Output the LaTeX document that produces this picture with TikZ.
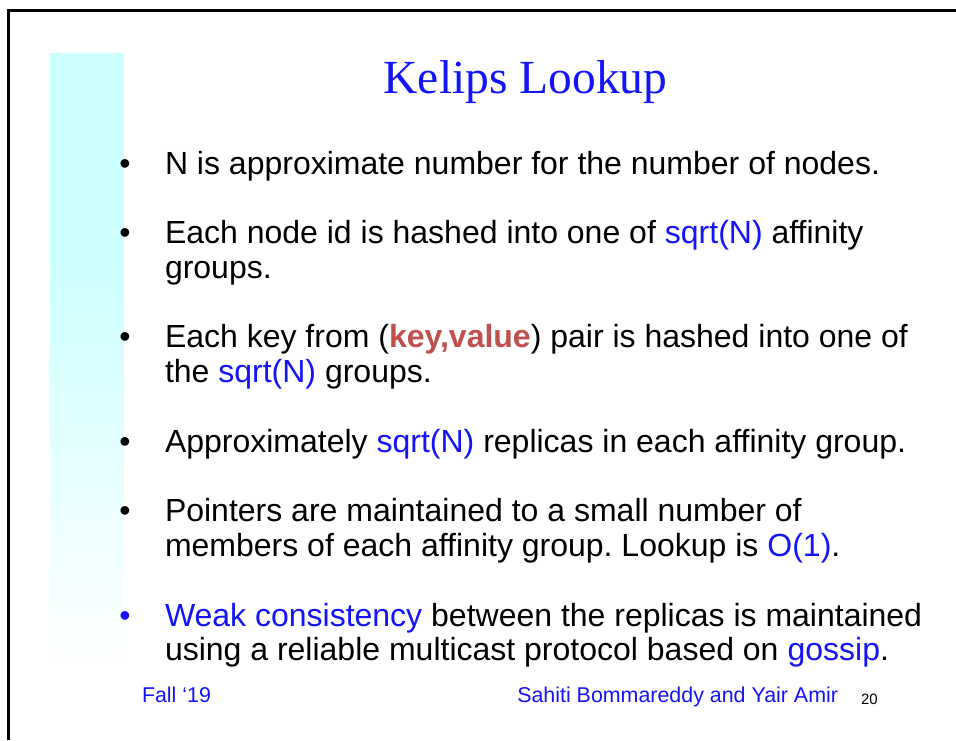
\documentclass[tikz,border=0pt]{standalone}
\usepackage{fontspec}
\setmainfont{Liberation Sans}
\newfontfamily\titlefont{Liberation Serif}
\frenchspacing
\definecolor{slideblue}{RGB}{20,20,250}
\definecolor{slidered}{RGB}{192,80,77}
\definecolor{barcyan}{RGB}{204,255,255}
\newcommand{\hl}[1]{\textcolor{slideblue}{#1}}
\tikzset{
  bodyline/.style={anchor=base west, inner sep=0pt, outer sep=0pt, font=\fontsize{32}{34.5}\selectfont},
  bul/.style={anchor=base, inner sep=0pt, outer sep=0pt, font=\fontsize{32}{34.5}\selectfont},
  foot/.style={inner sep=0pt, outer sep=0pt, font=\fontsize{21.4}{24}\selectfont, text=slideblue},
}
\begin{document}
\begin{tikzpicture}[x=1pt,y=-1pt]
\useasboundingbox (0,0) rectangle (956,740);
\fill[white] (0,0) rectangle (956,740);
% frame
\draw[line width=3pt] (8,740) -- (8,10) -- (956,10);
% side bar
\fill[barcyan] (50,53) rectangle (124,262);
\shade[top color=barcyan, bottom color=white] (50,261) rectangle (124,668);
% title
\node[anchor=base, inner sep=0pt, font=\titlefont\fontsize{47.5}{50}\selectfont, text=slideblue] (title) at (525.5,93) {Kelips Lookup};
% bullets
\node[bul] (b1) at (125,174) {•};
\node[bul] (b2) at (125,243.7) {•};
\node[bul] (b3) at (125,347.9) {•};
\node[bul] (b4) at (125,452.1) {•};
\node[bul] (b5) at (125,521.8) {•};
\node[bul, text=slideblue] (b6) at (125,626) {•};
% text
\node[bodyline] (t1) at (165,174) {N is approximate number for the number of nodes.};
\node[bodyline] (t2a) at (165,243.7) {Each node id is hashed into one of \hl{sqrt(N)} affinity};
\node[bodyline] (t2b) at (165,278.2) {groups.};
\node[bodyline] (t3a) at (165,347.9) {Each key from (\textcolor{slidered}{\bfseries key,value}) pair is hashed into one of};
\node[bodyline] (t3b) at (165,382.4) {the \hl{sqrt(N)} groups.};
\node[bodyline] (t4) at (165,452.1) {Approximately \hl{sqrt(N)} replicas in each affinity group.};
\node[bodyline] (t5a) at (165,521.8) {Pointers are maintained to a small number of};
\node[bodyline] (t5b) at (165,556.3) {members of each affinity group. Lookup is \hl{O(1)}.};
\node[bodyline] (t6a) at (165,626) {\hl{Weak consistency} between the replicas is maintained};
\node[bodyline] (t6b) at (165,660.5) {using a reliable multicast protocol based on \hl{gossip}.};
% footer
\node[foot, anchor=base west] (fall) at (142,702) {Fall ‘19};
\node[foot, anchor=base east] (authors) at (838,702) {Sahiti Bommareddy and Yair Amir};
\node[anchor=base west, inner sep=0pt, outer sep=0pt, font=\fontsize{15}{18}\selectfont] (pnum) at (861,704) {20};
\end{tikzpicture}
\end{document}
